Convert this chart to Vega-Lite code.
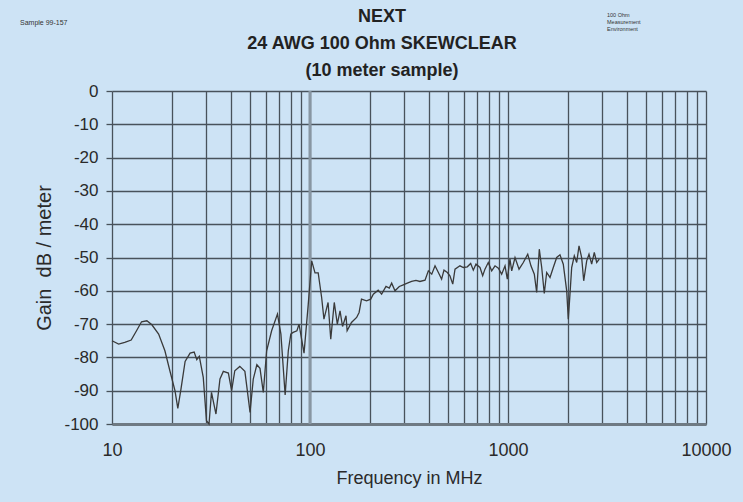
{
  "$schema": "https://vega.github.io/schema/vega-lite/v6.json",
  "width": 594,
  "height": 333,
  "autosize": {"type": "none"},
  "padding": {"left": 112, "top": 91, "right": 37, "bottom": 78},
  "background": "#cde3f5",
  "config": {"view": {"stroke": null}, "font": "Liberation Sans"},
  "title": {
    "text": ["NEXT", "24 AWG 100 Ohm SKEWCLEAR", "(10 meter sample)"],
    "fontSize": 18,
    "fontWeight": "bold",
    "lineHeight": 27,
    "color": "#222222",
    "anchor": "middle",
    "dx": -27,
    "offset": -67
  },
  "layer": [
    {
      "data": {"values": [{"f": 100}]},
      "mark": {"type": "rule", "color": "#8896a2", "strokeWidth": 3},
      "encoding": {
        "x": {
          "field": "f", "type": "quantitative",
          "scale": {"type": "log", "domain": [10, 10000], "nice": false},
          "axis": {
            "values": [10, 20, 30, 40, 50, 60, 70, 80, 90, 100, 200, 300, 400, 500, 600, 700, 800, 900, 1000, 2000, 3000, 4000, 5000, 6000, 7000, 8000, 9000, 10000],
            "grid": true, "gridColor": "#48525b", "gridWidth": 1.3, "gridOpacity": 1, "ticks": false,
            "domain": true, "domainColor": "#6f7a83", "domainWidth": 3,
            "labelExpr": "datum.value == 10 || datum.value == 100 || datum.value == 1000 || datum.value == 10000 ? format(datum.value, 'd') : ''",
            "labelFlush": false, "labelOverlap": false, "labelFontSize": 18, "labelColor": "#2a2a2a", "labelPadding": 17,
            "title": "Frequency in MHz", "titleFontSize": 18, "titleFontWeight": "normal", "titleColor": "#2a2a2a", "titlePadding": 10
          }
        }
      }
    },
    {
      "data": {"values": [
        {"freq": 10, "gain": -75}, {"freq": 10.8, "gain": -76}, {"freq": 11.6, "gain": -75.5}, {"freq": 12.5, "gain": -74.8},
        {"freq": 13.3, "gain": -72}, {"freq": 14.1, "gain": -69.3}, {"freq": 15.0, "gain": -69}, {"freq": 15.9, "gain": -70.2},
        {"freq": 17.2, "gain": -73}, {"freq": 18.5, "gain": -78}, {"freq": 19.6, "gain": -84}, {"freq": 20.8, "gain": -90},
        {"freq": 21.5, "gain": -95.3}, {"freq": 22.3, "gain": -89.5}, {"freq": 23.4, "gain": -81.2}, {"freq": 24.8, "gain": -78.7},
        {"freq": 26.0, "gain": -78.4}, {"freq": 26.8, "gain": -80.7}, {"freq": 27.6, "gain": -79.7}, {"freq": 28.9, "gain": -86},
        {"freq": 30.0, "gain": -99}, {"freq": 30.9, "gain": -100}, {"freq": 31.8, "gain": -90.5}, {"freq": 33.5, "gain": -97},
        {"freq": 35.1, "gain": -86.5}, {"freq": 36.5, "gain": -84.2}, {"freq": 38.7, "gain": -84.7}, {"freq": 40.2, "gain": -90},
        {"freq": 41.7, "gain": -84}, {"freq": 44.2, "gain": -82.7}, {"freq": 46.9, "gain": -84.2}, {"freq": 49.8, "gain": -96.5},
        {"freq": 51.7, "gain": -86.5}, {"freq": 53.9, "gain": -82.2}, {"freq": 55.9, "gain": -83.3}, {"freq": 58.1, "gain": -90.5},
        {"freq": 60.4, "gain": -78}, {"freq": 64.0, "gain": -72}, {"freq": 68.5, "gain": -67}, {"freq": 71.3, "gain": -73},
        {"freq": 74.9, "gain": -91.3}, {"freq": 77.7, "gain": -78}, {"freq": 80.0, "gain": -73}, {"freq": 82.2, "gain": -72.5},
        {"freq": 85.9, "gain": -72}, {"freq": 88.0, "gain": -70}, {"freq": 93.3, "gain": -78.7}, {"freq": 98.0, "gain": -64},
        {"freq": 102, "gain": -51}, {"freq": 106, "gain": -54.6}, {"freq": 110, "gain": -54.6}, {"freq": 114.5, "gain": -62},
        {"freq": 117.6, "gain": -68.5}, {"freq": 123.4, "gain": -63.5}, {"freq": 127.3, "gain": -74.5}, {"freq": 132.6, "gain": -63.5},
        {"freq": 137.4, "gain": -70}, {"freq": 141.8, "gain": -66}, {"freq": 146, "gain": -70.7}, {"freq": 152, "gain": -67.5},
        {"freq": 154, "gain": -72}, {"freq": 162, "gain": -69.5}, {"freq": 172, "gain": -68}, {"freq": 177, "gain": -66.5},
        {"freq": 182, "gain": -62.5}, {"freq": 193, "gain": -63}, {"freq": 202.6, "gain": -62.5}, {"freq": 208.8, "gain": -61},
        {"freq": 221, "gain": -59.8}, {"freq": 230, "gain": -61}, {"freq": 242, "gain": -58.7}, {"freq": 251.5, "gain": -59.2},
        {"freq": 258.5, "gain": -57.7}, {"freq": 268.7, "gain": -60}, {"freq": 282.5, "gain": -58.7}, {"freq": 296, "gain": -58.2},
        {"freq": 310, "gain": -57.7}, {"freq": 326, "gain": -57.2}, {"freq": 343, "gain": -56.9}, {"freq": 359, "gain": -57.2},
        {"freq": 381, "gain": -56.8}, {"freq": 396, "gain": -54}, {"freq": 412, "gain": -55}, {"freq": 428, "gain": -52.5},
        {"freq": 445, "gain": -54.5}, {"freq": 462, "gain": -56.5}, {"freq": 475, "gain": -53.8}, {"freq": 494, "gain": -54.5},
        {"freq": 509, "gain": -55.5}, {"freq": 526, "gain": -58}, {"freq": 540, "gain": -53.5}, {"freq": 572, "gain": -52.5},
        {"freq": 595, "gain": -53}, {"freq": 623, "gain": -52.8}, {"freq": 648, "gain": -51.8}, {"freq": 668, "gain": -53.8},
        {"freq": 689, "gain": -52}, {"freq": 722, "gain": -53}, {"freq": 745, "gain": -55.5}, {"freq": 765, "gain": -53.5},
        {"freq": 795, "gain": -51.5}, {"freq": 827, "gain": -54}, {"freq": 860, "gain": -52.5}, {"freq": 894, "gain": -53.2},
        {"freq": 929, "gain": -55}, {"freq": 966, "gain": -52.5}, {"freq": 992, "gain": -56.5}, {"freq": 1023, "gain": -50.5},
        {"freq": 1044, "gain": -54}, {"freq": 1085, "gain": -50}, {"freq": 1137, "gain": -53.5}, {"freq": 1195, "gain": -51.5},
        {"freq": 1258, "gain": -49}, {"freq": 1306, "gain": -52.5}, {"freq": 1358, "gain": -55}, {"freq": 1396, "gain": -60.5},
        {"freq": 1439, "gain": -47.5}, {"freq": 1480, "gain": -53}, {"freq": 1525, "gain": -60.8}, {"freq": 1568, "gain": -54.5},
        {"freq": 1630, "gain": -56}, {"freq": 1693, "gain": -53}, {"freq": 1762, "gain": -50}, {"freq": 1830, "gain": -49.2},
        {"freq": 1902, "gain": -52}, {"freq": 1979, "gain": -60}, {"freq": 2016, "gain": -68.5}, {"freq": 2056, "gain": -61},
        {"freq": 2097, "gain": -53}, {"freq": 2162, "gain": -49.5}, {"freq": 2223, "gain": -51.5}, {"freq": 2284, "gain": -46.5},
        {"freq": 2355, "gain": -50}, {"freq": 2412, "gain": -57}, {"freq": 2497, "gain": -51}, {"freq": 2565, "gain": -49},
        {"freq": 2646, "gain": -52}, {"freq": 2728, "gain": -48.5}, {"freq": 2806, "gain": -51.5}, {"freq": 2891, "gain": -50.5}
      ]},
      "mark": {"type": "line", "color": "#3a3a3a", "strokeWidth": 1.3},
      "encoding": {
        "x": {
          "field": "freq",
          "type": "quantitative",
          "scale": {"type": "log", "domain": [10, 10000], "nice": false},
          "axis": {
            "values": [10, 20, 30, 40, 50, 60, 70, 80, 90, 100, 200, 300, 400, 500, 600, 700, 800, 900, 1000, 2000, 3000, 4000, 5000, 6000, 7000, 8000, 9000, 10000],
            "grid": true, "gridColor": "#48525b", "gridWidth": 1.3, "gridOpacity": 1, "ticks": false,
            "domain": true, "domainColor": "#6f7a83", "domainWidth": 3,
            "labelExpr": "datum.value == 10 || datum.value == 100 || datum.value == 1000 || datum.value == 10000 ? format(datum.value, 'd') : ''",
            "labelFlush": false, "labelOverlap": false, "labelFontSize": 18, "labelColor": "#2a2a2a", "labelPadding": 17,
            "title": "Frequency in MHz", "titleFontSize": 18, "titleFontWeight": "normal", "titleColor": "#2a2a2a", "titlePadding": 10
          }
        },
        "y": {
          "field": "gain",
          "type": "quantitative",
          "scale": {"domain": [-100, 0], "nice": false},
          "axis": {
            "values": [0, -10, -20, -30, -40, -50, -60, -70, -80, -90, -100],
            "grid": true, "gridColor": "#48525b", "gridWidth": 1.3, "gridOpacity": 1,
            "ticks": true, "tickSize": 6, "tickColor": "#48525b", "tickWidth": 1.3, "domain": false,
            "labelExpr": "datum.value == 0 ? '0' : '-' + abs(datum.value)",
            "labelOverlap": false, "labelFontSize": 17, "labelColor": "#2a2a2a", "labelPadding": 8,
            "title": "Gain\u00a0\u00a0dB / meter", "titleFontSize": 20, "titleFontWeight": "normal", "titleColor": "#2a2a2a", "titlePadding": 9
          }
        }
      }
    },
    {
      "data": {"values": [{"label": "Sample 99-157"}]},
      "mark": {"type": "text", "align": "left", "baseline": "middle", "fontSize": 7, "color": "#333333"},
      "encoding": {
        "x": {"datum": 3.43, "type": "quantitative"},
        "y": {
          "datum": 20.5, "type": "quantitative",
          "axis": {
            "values": [0, -10, -20, -30, -40, -50, -60, -70, -80, -90, -100],
            "grid": true, "gridColor": "#48525b", "gridWidth": 1.3, "gridOpacity": 1,
            "ticks": true, "tickSize": 6, "tickColor": "#48525b", "tickWidth": 1.3, "domain": false,
            "labelExpr": "datum.value == 0 ? '0' : '-' + abs(datum.value)",
            "labelOverlap": false, "labelFontSize": 17, "labelColor": "#2a2a2a", "labelPadding": 8,
            "title": "Gain\u00a0\u00a0dB / meter", "titleFontSize": 20, "titleFontWeight": "normal", "titleColor": "#2a2a2a", "titlePadding": 9
          }
        },
        "text": {"field": "label"}
      }
    },
    {
      "data": {"values": [{"label": "100 Ohm\nMeasurement\nEnvironment"}]},
      "mark": {"type": "text", "align": "left", "baseline": "top", "fontSize": 5.5, "lineHeight": 7, "lineBreak": "\n", "color": "#333333"},
      "encoding": {
        "x": {"datum": 3162, "type": "quantitative"},
        "y": {
          "datum": 23.4, "type": "quantitative",
          "axis": {
            "values": [0, -10, -20, -30, -40, -50, -60, -70, -80, -90, -100],
            "grid": true, "gridColor": "#48525b", "gridWidth": 1.3, "gridOpacity": 1,
            "ticks": true, "tickSize": 6, "tickColor": "#48525b", "tickWidth": 1.3, "domain": false,
            "labelExpr": "datum.value == 0 ? '0' : '-' + abs(datum.value)",
            "labelOverlap": false, "labelFontSize": 17, "labelColor": "#2a2a2a", "labelPadding": 8,
            "title": "Gain\u00a0\u00a0dB / meter", "titleFontSize": 20, "titleFontWeight": "normal", "titleColor": "#2a2a2a", "titlePadding": 9
          }
        },
        "text": {"field": "label"}
      }
    }
  ]
}
